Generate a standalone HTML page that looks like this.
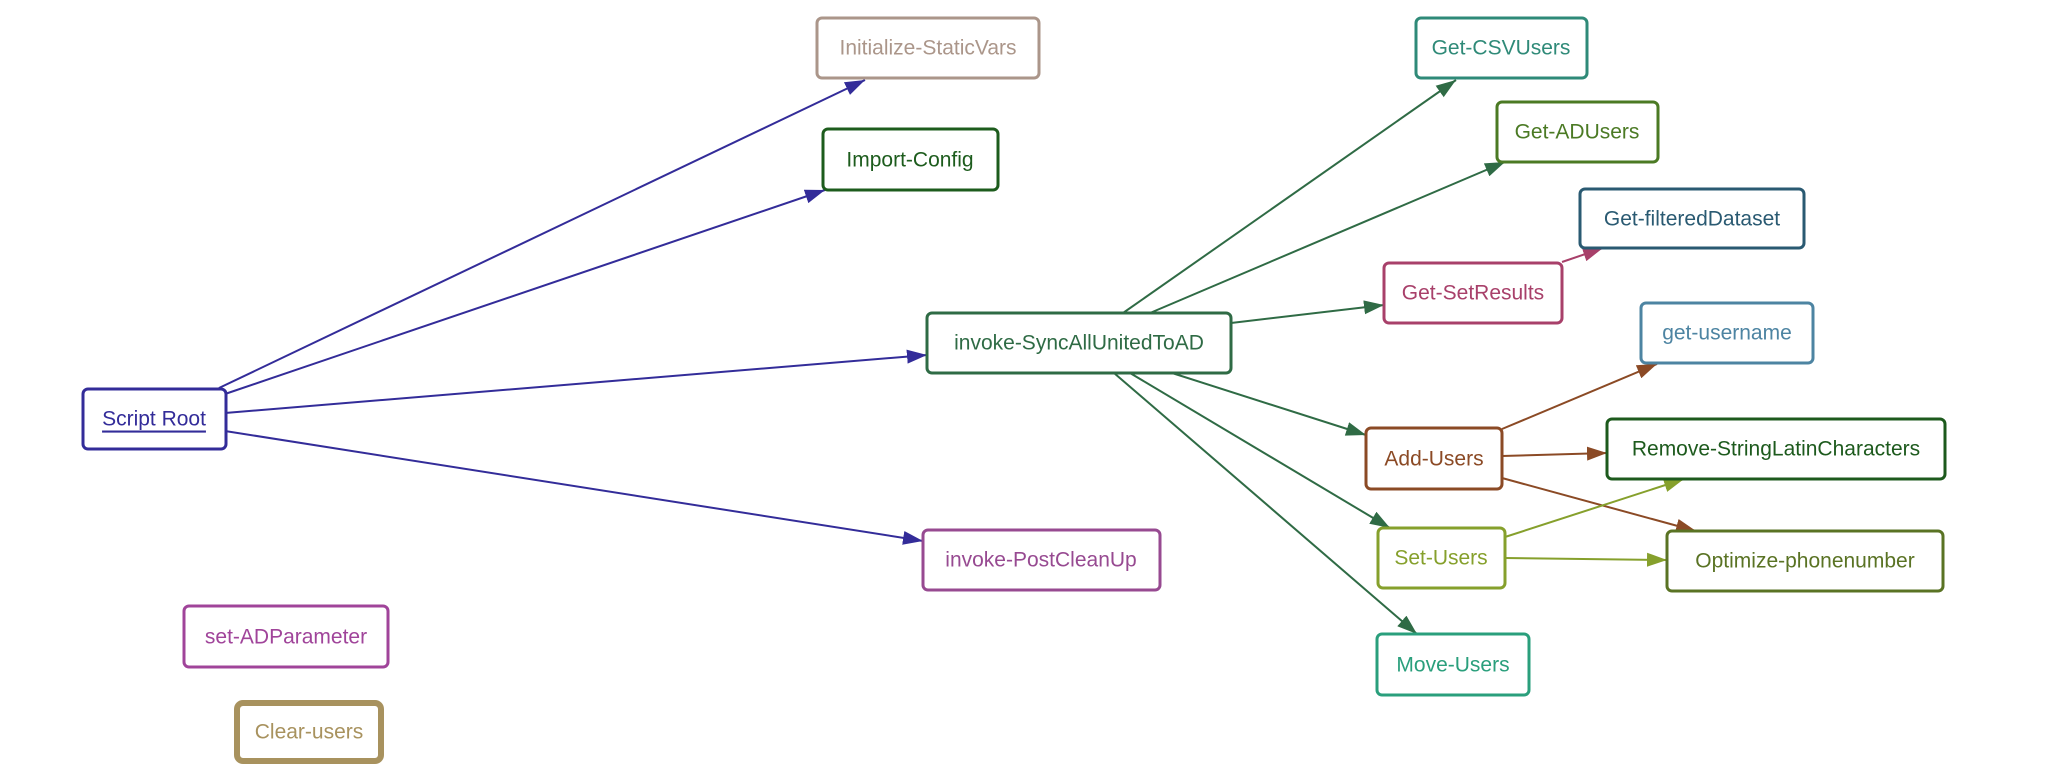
<!DOCTYPE html>
<html><head><meta charset="utf-8"><style>
html,body{margin:0;padding:0;background:#fff;}
svg{display:block;}
text{font-family:"Liberation Sans",sans-serif;font-size:21px;text-anchor:middle;dominant-baseline:central;}
</style></head><body>
<svg width="2050" height="782" viewBox="0 0 2050 782" xmlns="http://www.w3.org/2000/svg">
<defs>
<marker id="mb" viewBox="0 0 10 10" refX="10" refY="5" markerWidth="7" markerHeight="7" markerUnits="userSpaceOnUse" orient="auto" style="overflow:visible"><path d="M0,0 L10,5 L0,10 z" fill="#332c99" transform="scale(2)" /></marker>
<marker id="mg" viewBox="0 0 20 20" refX="20" refY="10" markerWidth="20" markerHeight="20" markerUnits="userSpaceOnUse" orient="auto"><path d="M0,3 L20,10 L0,17 z" fill="#2f6b45"/></marker>
<marker id="mb2" viewBox="0 0 20 20" refX="20" refY="10" markerWidth="20" markerHeight="20" markerUnits="userSpaceOnUse" orient="auto"><path d="M0,3 L20,10 L0,17 z" fill="#332c99"/></marker>
<marker id="mr" viewBox="0 0 20 20" refX="20" refY="10" markerWidth="20" markerHeight="20" markerUnits="userSpaceOnUse" orient="auto"><path d="M0,3 L20,10 L0,17 z" fill="#8b4a25"/></marker>
<marker id="mp" viewBox="0 0 20 20" refX="20" refY="10" markerWidth="20" markerHeight="20" markerUnits="userSpaceOnUse" orient="auto"><path d="M0,3 L20,10 L0,17 z" fill="#a8406a"/></marker>
<marker id="ml" viewBox="0 0 20 20" refX="20" refY="10" markerWidth="20" markerHeight="20" markerUnits="userSpaceOnUse" orient="auto"><path d="M0,3 L20,10 L0,17 z" fill="#86a02c"/></marker>
</defs>
<g stroke-width="2" fill="none">
<g stroke="#332c99" marker-end="url(#mb2)">
<line x1="219" y1="388" x2="865" y2="80"/>
<line x1="225" y1="394" x2="825" y2="190"/>
<line x1="225" y1="413" x2="927" y2="355"/>
<line x1="225" y1="431" x2="923" y2="541"/>
</g>
<g stroke="#2f6b45" marker-end="url(#mg)">
<line x1="1123" y1="313" x2="1456" y2="80"/>
<line x1="1150" y1="313" x2="1505" y2="162"/>
<line x1="1231" y1="323" x2="1384" y2="305"/>
<line x1="1172" y1="373" x2="1366" y2="435"/>
<line x1="1130" y1="373" x2="1390" y2="528"/>
<line x1="1114" y1="373" x2="1417" y2="634"/>
</g>
<line x1="1562" y1="262" x2="1603" y2="248" stroke="#a8406a" marker-end="url(#mp)"/>
<g stroke="#8b4a25" marker-end="url(#mr)">
<line x1="1502" y1="429" x2="1657" y2="364"/>
<line x1="1502" y1="456" x2="1607" y2="453"/>
<line x1="1502" y1="478" x2="1696" y2="531"/>
</g>
<g stroke="#86a02c" marker-end="url(#ml)">
<line x1="1505" y1="537" x2="1684" y2="479"/>
<line x1="1505" y1="558" x2="1667" y2="560"/>
</g>
</g>
<g stroke-width="3" fill="#fff">
<rect x="83" y="389" width="143" height="60" rx="5" stroke="#332c99"/>
<rect x="817" y="18" width="222" height="60" rx="5" stroke="#ab968a"/>
<rect x="823" y="129" width="175" height="61" rx="5" stroke="#1d5c1d"/>
<rect x="927" y="313" width="304" height="60" rx="5" stroke="#2f6b45"/>
<rect x="923" y="530" width="237" height="60" rx="5" stroke="#974a91"/>
<rect x="184" y="606" width="204" height="61" rx="5" stroke="#a0449a"/>
<rect x="237" y="703" width="144" height="58" rx="6" stroke="#a8925e" stroke-width="6"/>
<rect x="1416" y="18" width="171" height="60" rx="5" stroke="#2f8a78"/>
<rect x="1497" y="102" width="161" height="60" rx="5" stroke="#4b7a24"/>
<rect x="1580" y="189" width="224" height="59" rx="5" stroke="#2a5a72"/>
<rect x="1384" y="263" width="178" height="60" rx="5" stroke="#a8406a"/>
<rect x="1641" y="303" width="172" height="60" rx="5" stroke="#4d84a2"/>
<rect x="1607" y="419" width="338" height="60" rx="5" stroke="#1d5a1d"/>
<rect x="1366" y="428" width="136" height="61" rx="5" stroke="#8b4a25"/>
<rect x="1378" y="528" width="127" height="60" rx="5" stroke="#86a02c"/>
<rect x="1667" y="531" width="276" height="60" rx="5" stroke="#5a7324"/>
<rect x="1377" y="634" width="152" height="61" rx="5" stroke="#2a9f7c"/>
</g>
<text x="154" y="419" fill="#332c99" text-decoration="underline">Script Root</text>
<text x="928" y="48" fill="#ab968a">Initialize-StaticVars</text>
<text x="910" y="160" fill="#1d5c1d">Import-Config</text>
<text x="1079" y="343" fill="#2f6b45">invoke-SyncAllUnitedToAD</text>
<text x="1041" y="560" fill="#974a91">invoke-PostCleanUp</text>
<text x="286" y="637" fill="#a0449a">set-ADParameter</text>
<text x="309" y="732" fill="#a8925e">Clear-users</text>
<text x="1501" y="48" fill="#2f8a78">Get-CSVUsers</text>
<text x="1577" y="132" fill="#4b7a24">Get-ADUsers</text>
<text x="1692" y="219" fill="#2a5a72">Get-filteredDataset</text>
<text x="1473" y="293" fill="#a8406a">Get-SetResults</text>
<text x="1727" y="333" fill="#4d84a2">get-username</text>
<text x="1776" y="449" fill="#1d5a1d">Remove-StringLatinCharacters</text>
<text x="1434" y="459" fill="#8b4a25">Add-Users</text>
<text x="1441" y="558" fill="#86a02c">Set-Users</text>
<text x="1805" y="561" fill="#5a7324">Optimize-phonenumber</text>
<text x="1453" y="665" fill="#2a9f7c">Move-Users</text>
</svg>
</body></html>
